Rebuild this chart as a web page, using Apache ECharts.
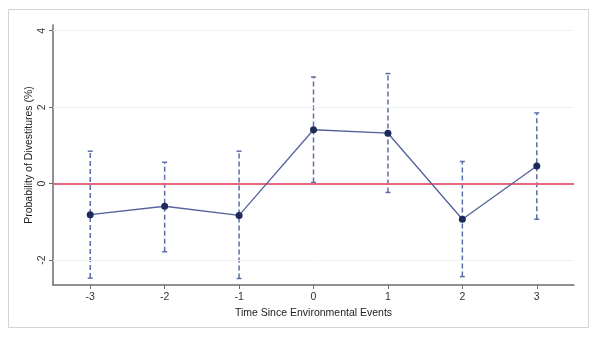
<!DOCTYPE html>
<html>
<head>
<meta charset="utf-8">
<script src="https://cdn.jsdelivr.net/npm/echarts@6/dist/echarts.min.js"></script>
<style>
  html, body { margin: 0; padding: 0; background: #ffffff; }
  #chart { width: 600px; height: 339px; }
</style>
</head>
<body>
<div id="chart"></div>
<script>
// Event-study estimates: divestiture probability around environmental events
const periods = [-3, -2, -1, 0, 1, 2, 3];
const estimates = [-0.81, -0.59, -0.83, 1.41, 1.32, -0.93, 0.46];
const ciLower = [-2.47, -1.78, -2.48, 0.03, -0.23, -2.43, -0.93];
const ciUpper = [0.85, 0.56, 0.85, 2.79, 2.88, 0.58, 1.85];
const yTicks = [-2, 0, 2, 4];
const gridLevels = [-2, 2, 4];

const chart = echarts.init(document.getElementById('chart'), null, { renderer: 'canvas' });

const fontFamily = '"Liberation Sans", Arial, sans-serif';
const barColor = '#5a6fa6';

const ciData = periods.map((p, i) => [p, ciLower[i], ciUpper[i]]);

const option = {
  animation: false,
  backgroundColor: '#ffffff',
  graphic: [{
    type: 'rect',
    shape: { x: 8.5, y: 9.5, width: 580, height: 318 },
    style: { fill: 'none', stroke: '#d4d4d4', lineWidth: 1 },
    silent: true
  }],
  grid: { left: 53, right: 26, top: 25, bottom: 54 },
  xAxis: {
    type: 'value',
    min: -3.5,
    max: 3.5,
    name: 'Time Since Environmental Events',
    nameLocation: 'middle',
    nameGap: 23,
    nameMoveOverlap: false,
    nameTextStyle: { fontFamily, fontSize: 10.5, color: '#222' },
    axisLine: { onZero: false, lineStyle: { color: '#6b6b6b', width: 1.5 } },
    axisTick: { customValues: periods, length: 4, lineStyle: { color: '#6b6b6b', width: 1 } },
    axisLabel: {
      customValues: periods,
      fontFamily, fontSize: 10.5, color: '#333', margin: 7
    },
    splitLine: { show: false }
  },
  yAxis: {
    type: 'value',
    min: -2.65,
    max: 4.15,
    name: 'Probability of Divestitures (%)',
    nameLocation: 'middle',
    nameGap: 18,
    nameMoveOverlap: false,
    nameTextStyle: { fontFamily, fontSize: 10.5, color: '#222' },
    axisLine: { show: true, onZero: false, lineStyle: { color: '#6b6b6b', width: 1.5 } },
    axisTick: { show: true, customValues: yTicks, length: 4, lineStyle: { color: '#6b6b6b', width: 1 } },
    axisLabel: {
      customValues: yTicks,
      rotate: 90,
      fontFamily, fontSize: 10.5, color: '#333', margin: 5
    },
    splitLine: { show: false }
  },
  series: [
    {
      // light horizontal gridlines
      type: 'line',
      data: [],
      silent: true,
      markLine: {
        silent: true,
        symbol: 'none',
        label: { show: false },
        lineStyle: { color: '#eef2f2', width: 1, type: 'solid' },
        data: gridLevels.map(v => ({ yAxis: v }))
      }
    },
    {
      // zero reference line
      type: 'line',
      data: [],
      silent: true,
      z: 3,
      markLine: {
        silent: true,
        symbol: 'none',
        label: { show: false },
        lineStyle: { color: '#e2677f', width: 2, type: 'solid' },
        data: [{ yAxis: 0 }]
      }
    },
    {
      // dashed confidence intervals with caps
      type: 'custom',
      z: 4,
      data: ciData,
      renderItem: function (params, api) {
        const x = api.value(0);
        const lo = api.coord([x, api.value(1)]);
        const hi = api.coord([x, api.value(2)]);
        const cap = 2.5;
        const style = { stroke: barColor, lineWidth: 1.5 };
        return {
          type: 'group',
          children: [
            {
              type: 'line',
              shape: { x1: lo[0], y1: lo[1], x2: hi[0], y2: hi[1] },
              style: { stroke: barColor, lineWidth: 1.5, lineDash: [5, 3] }
            },
            { type: 'line', shape: { x1: hi[0] - cap, y1: hi[1], x2: hi[0] + cap, y2: hi[1] }, style },
            { type: 'line', shape: { x1: lo[0] - cap, y1: lo[1], x2: lo[0] + cap, y2: lo[1] }, style }
          ]
        };
      }
    },
    {
      // point estimates
      type: 'line',
      z: 5,
      data: periods.map((p, i) => [p, estimates[i]]),
      symbol: 'circle',
      symbolSize: 7,
      lineStyle: { color: '#53639a', width: 1.3 },
      itemStyle: { color: '#1c2a5e' }
    }
  ]
};

chart.setOption(option);
</script>
</body>
</html>
